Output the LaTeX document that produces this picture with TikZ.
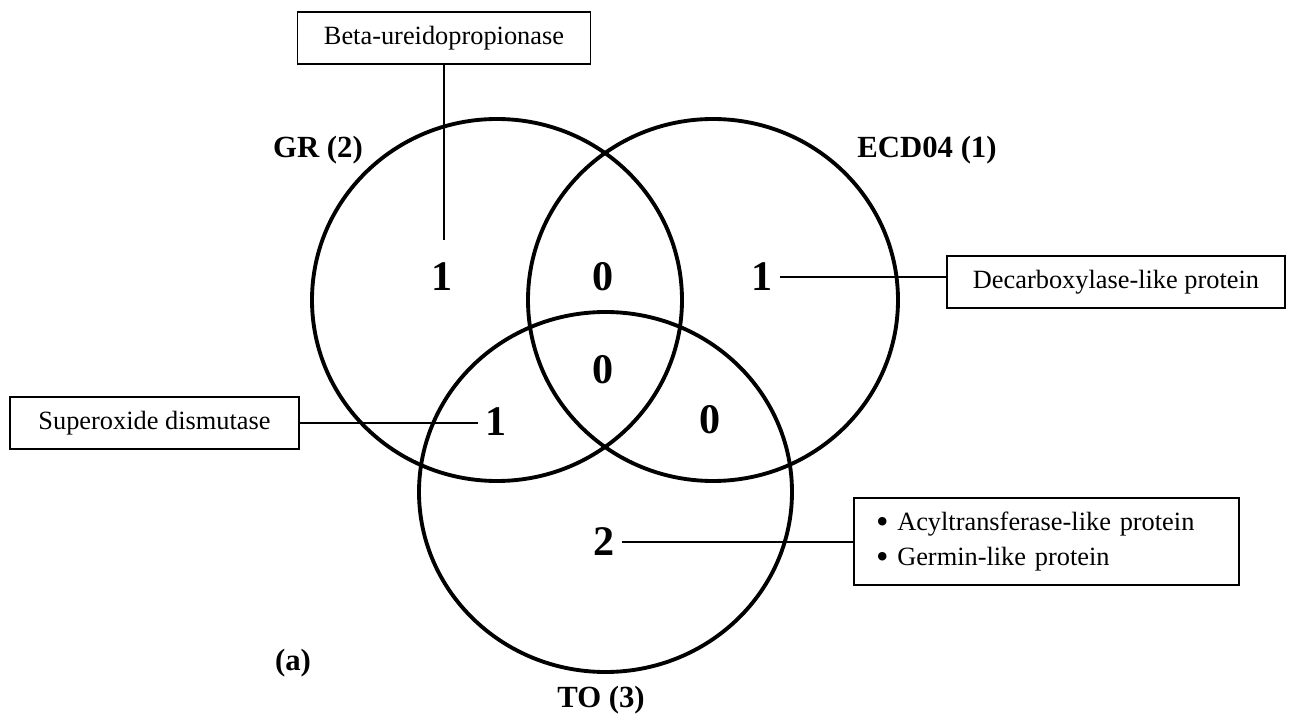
\documentclass[tikz,border=0pt]{standalone}
\usepackage{fontspec}
\setmainfont{Liberation Serif}
\usetikzlibrary{calc}

\newcommand{\bigdot}{\raisebox{-0.11em}{\scalebox{1.35}{\textbullet}}}

\begin{document}
\begin{tikzpicture}[scale=1.0,
  ring/.style={line width=2.2pt},
  namebox/.style={draw, line width=1pt, minimum height=1.04cm, inner sep=0pt,
    font=\fontsize{15}{18}\selectfont},
  count/.style={font=\fontsize{24}{28}\selectfont\bfseries, inner sep=4pt},
  setname/.style={font=\fontsize{17.5}{21}\selectfont\bfseries},
  link/.style={line width=1pt}]
  \useasboundingbox (0,0) rectangle (25.8,14.34);

  % Circles
  \draw[ring] (9.94,8.34) ellipse (3.70 and 3.62);
  \draw[ring] (14.26,8.34) ellipse (3.70 and 3.62);
  \draw[ring] (12.11,4.50) ellipse (3.73 and 3.60);

  % Set names
  \node[setname] (nameGR) at (6.36,11.34) {GR (2)};
  \node[setname] (nameECD) at (18.54,11.34) {ECD04 (1)};
  \node[setname] (nameTO) at (12.02,0.34) {TO (3)};
  \node[setname] (panel) at (5.86,1.08) {(a)};

  % Counts per region
  \foreach \n/\x/\y/\t in {
    cG/8.84/8.80/1,  cGE/12.06/8.80/0, cE/15.24/8.80/1,
    cGET/12.06/6.94/0, cGT/9.92/5.90/1, cET/14.20/5.94/0,
    cT/12.08/3.50/2}
    \node[count] (\n) at (\x,\y) {\t};

  % Protein boxes
  \node[namebox, minimum width=5.86cm] (beta) at (8.88,13.58) {Beta-ureidopropionase};
  \node[namebox, minimum width=5.78cm] (sod) at (3.09,5.88) {Superoxide dismutase};
  \node[namebox, minimum width=6.76cm] (decarb) at (22.32,8.70) {Decarboxylase-like protein};
  \node[namebox, minimum width=7.70cm, minimum height=1.74cm, text width=6.82cm,
    align=left, font=\fontsize{15}{20}\selectfont] (acyl) at (20.93,3.51)
    {\bigdot\ Acyltransferase-like protein\\ \bigdot\ Germin-like protein};

  % Links
  \coordinate (betaend) at (8.88,9.54);
  \draw[link] (beta) -- (betaend);
  \draw[link] (sod.east) -- (sod.east -| cGT.west);
  \draw[link] (cE.east) -- (cE.east -| decarb.west);
  \draw[link] (cT.east) -- (cT.east -| acyl.west);
\end{tikzpicture}
\end{document}
